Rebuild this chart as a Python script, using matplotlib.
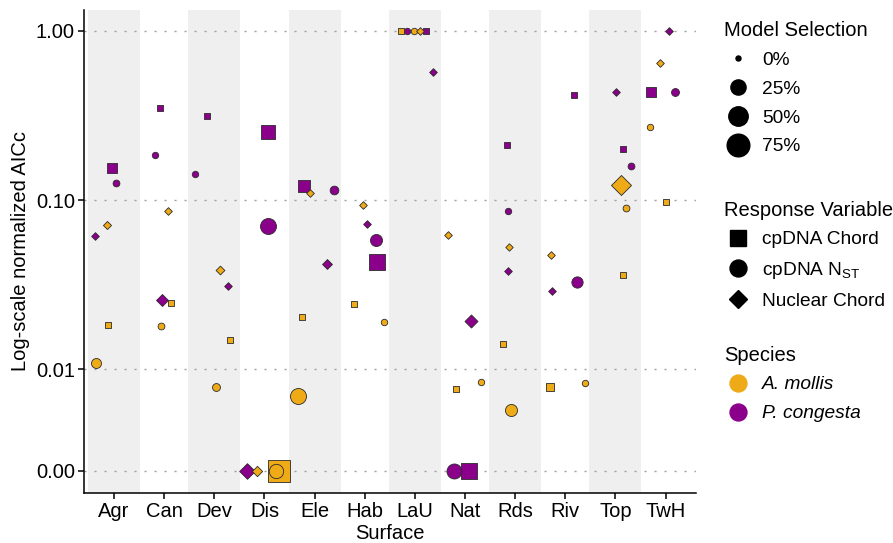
import matplotlib
matplotlib.use("Agg")
import matplotlib.pyplot as plt
from matplotlib.lines import Line2D
import numpy as np

plt.rcParams["font.family"] = ["Liberation Sans", "DejaVu Sans"]
plt.rcParams["mathtext.fontset"] = "custom"
plt.rcParams["mathtext.rm"] = "Liberation Sans"

surfaces = ["Agr", "Can", "Dev", "Dis", "Ele", "Hab", "LaU", "Nat", "Rds", "Riv", "Top", "TwH"]

# normalized AICc per surface (A. mollis = am, P. congesta = pc)
am_chord = [0.0182, 0.0247, 0.015, 0.0, 0.0203, 0.0242, 1.0, 0.0081, 0.0141, 0.0083, 0.036, 0.0969]
am_nst = [0.01086, 0.018, 0.0083, 0.0, 0.0074, 0.0191, 1.0, 0.0088, 0.006, 0.0087, 0.0893, 0.2715]
am_nuc = [0.0711, 0.0864, 0.0387, 0.0, 0.1105, 0.0938, 1.0, 0.0621, 0.0525, 0.0475, 0.123, 0.647]
pc_chord = [0.155, 0.350, 0.313, 0.2536, 0.1206, 0.043, 1.0, 0.0, 0.2124, 0.42, 0.1995, 0.434]
pc_nst = [0.126, 0.185, 0.142, 0.0705, 0.114, 0.0578, 1.0, 0.0, 0.086, 0.0326, 0.159, 0.434]
pc_nuc = [0.0612, 0.0256, 0.0309, 0.0, 0.0417, 0.0724, 0.572, 0.0192, 0.0379, 0.029, 0.436, 1.0]

# model selection (%)
am_chord_sel = [0.3, 0.3, 0.3, 100, 0.3, 0.5, 0.3, 0.8, 0.3, 3.8, 0.3, 0.3]
am_nst_sel = [6, 0.8, 2, 21, 29, 0.5, 0.5, 0.5, 12, 0.5, 0.8, 0.5]
am_nuc_sel = [0.5, 0.3, 1, 2.5, 0.3, 0.3, 0.3, 0.3, 0.2, 0.3, 29, 0.3]
pc_chord_sel = [7, 0.5, 2, 24, 17, 35, 1, 35, 0.5, 0.8, 0.8, 7]
pc_nst_sel = [0.8, 0.5, 0.5, 29, 3.3, 12, 0.5, 24, 0.5, 9.5, 0.8, 2]
pc_nuc_sel = [0.3, 5, 0.3, 13.5, 2, 0.3, 0.3, 7, 0.3, 0.3, 0.3, 0.3]

# horizontal jitter as drawn
am_chord_jit = [-0.13, 0.14, 0.32, 0.30, -0.25, -0.22, -0.27, -0.17, -0.24, -0.30, 0.15, 0.01]
am_nst_jit = [-0.36, -0.06, 0.04, 0.23, -0.34, 0.38, -0.01, 0.31, -0.08, 0.39, 0.21, -0.32]
am_nuc_jit = [-0.15, 0.08, 0.12, -0.15, -0.09, -0.04, 0.11, -0.34, -0.13, -0.28, 0.11, -0.12]
pc_chord_jit = [-0.04, -0.08, -0.15, 0.07, -0.22, 0.24, 0.22, 0.07, -0.16, 0.18, 0.16, -0.29]
pc_nst_jit = [0.03, -0.18, -0.39, 0.07, 0.39, 0.22, -0.16, -0.21, -0.14, 0.24, 0.32, 0.19]
pc_nuc_jit = [-0.37, -0.04, 0.28, -0.35, 0.25, 0.05, 0.36, 0.11, -0.14, -0.26, 0.01, 0.06]

ORANGE = "#EFAA18"
PURPLE = "#8B008B"
EDGE = "#2b2b2b"
BAND = "#EFEFEF"

series = [
    (am_chord, am_chord_sel, am_chord_jit, ORANGE, "s"),
    (am_nst, am_nst_sel, am_nst_jit, ORANGE, "o"),
    (am_nuc, am_nuc_sel, am_nuc_jit, ORANGE, "D"),
    (pc_chord, pc_chord_sel, pc_chord_jit, PURPLE, "s"),
    (pc_nst, pc_nst_sel, pc_nst_jit, PURPLE, "o"),
    (pc_nuc, pc_nuc_sel, pc_nuc_jit, PURPLE, "D"),
]


def diameter_px(pct):
    # area-style size scale
    return 5 + 20.4 * np.sqrt(pct / 100.0)


def marker_s(pct, marker):
    d = diameter_px(pct) * 0.72
    if marker != "o":
        d *= 0.886  # equal-area square / diamond
    return d ** 2


fig, ax = plt.subplots(figsize=(8.93, 5.43), dpi=100)
fig.subplots_adjust(left=0.094, right=0.779, top=0.982, bottom=0.092)

x = np.arange(len(surfaces))
for i in x[::2]:
    ax.axvspan(i - 0.52, i + 0.52, color=BAND, lw=0, zorder=0)

points = []
for vals, sels, jits, col, mk in series:
    for i in range(len(surfaces)):
        points.append((sels[i], x[i] + jits[i], vals[i], col, mk))
points.sort(key=lambda p: -p[0])

for z, (sel, px, val, col, mk) in enumerate(points):
    ax.scatter(px, val, s=marker_s(sel, mk), marker=mk, facecolor=col,
               edgecolor=EDGE, linewidth=0.6, zorder=3 + z * 0.01)

ax.set_yscale("symlog", linthresh=0.01, linscale=0.54)
ax.set_ylim(-0.00217, 1.33)
ax.set_xlim(-0.6, len(surfaces) - 0.4)
ax.set_yticks([0, 0.01, 0.1, 1.0])
ax.set_yticklabels(["0.00", "0.01", "0.10", "1.00"])
ax.yaxis.set_minor_locator(matplotlib.ticker.NullLocator())
ax.set_xticks(x)
ax.set_xticklabels(surfaces)

ax.yaxis.grid(True, linestyle=(0, (1.5, 5.7)), color="#A0A0A0", linewidth=1.0)
ax.set_axisbelow(True)
for sp in ["top", "right"]:
    ax.spines[sp].set_visible(False)
for sp in ["left", "bottom"]:
    ax.spines[sp].set_linewidth(1.1)
ax.tick_params(axis="both", length=4.5, width=1.1, labelsize=14.5, pad=2,
               colors="black")

ax.set_xlabel("Surface", fontsize=14.5, labelpad=2)
ax.set_ylabel("Log-scale normalized AICc", fontsize=14.5, labelpad=4)

leg_kw = dict(loc="upper left", frameon=False, fontsize=13.8, title_fontsize=14.5,
              borderpad=0.35, borderaxespad=0, handlelength=1.5, handletextpad=0.5,
              labelspacing=0.6, alignment="left")

size_breaks = [0, 25, 50, 75]
size_handles = [Line2D([], [], ls="", marker="o", color="black",
                       markersize=diameter_px(b) * 0.72) for b in size_breaks]
fig.legend(size_handles, [f"{b}%" for b in size_breaks], title="Model Selection",
           bbox_to_anchor=(0.803, 0.974), **leg_kw)

resp_labels = ["cpDNA Chord", r"cpDNA N$_{\mathrm{ST}}$", "Nuclear Chord"]
resp_handles = [
    Line2D([], [], ls="", marker="s", color="black", markersize=11.5),
    Line2D([], [], ls="", marker="o", color="black", markersize=12.2),
    Line2D([], [], ls="", marker="D", color="black", markersize=8.7),
]
fig.legend(resp_handles, resp_labels, title="Response Variable",
           bbox_to_anchor=(0.803, 0.643), **leg_kw)

sp_handles = [Line2D([], [], ls="", marker="o", color=c, markersize=12.2)
              for c in [ORANGE, PURPLE]]
leg = fig.legend(sp_handles, ["A. mollis", "P. congesta"], title="Species",
                 bbox_to_anchor=(0.803, 0.376), **leg_kw)
for t in leg.get_texts():
    t.set_fontstyle("italic")

fig.savefig("out.png", dpi=100)
